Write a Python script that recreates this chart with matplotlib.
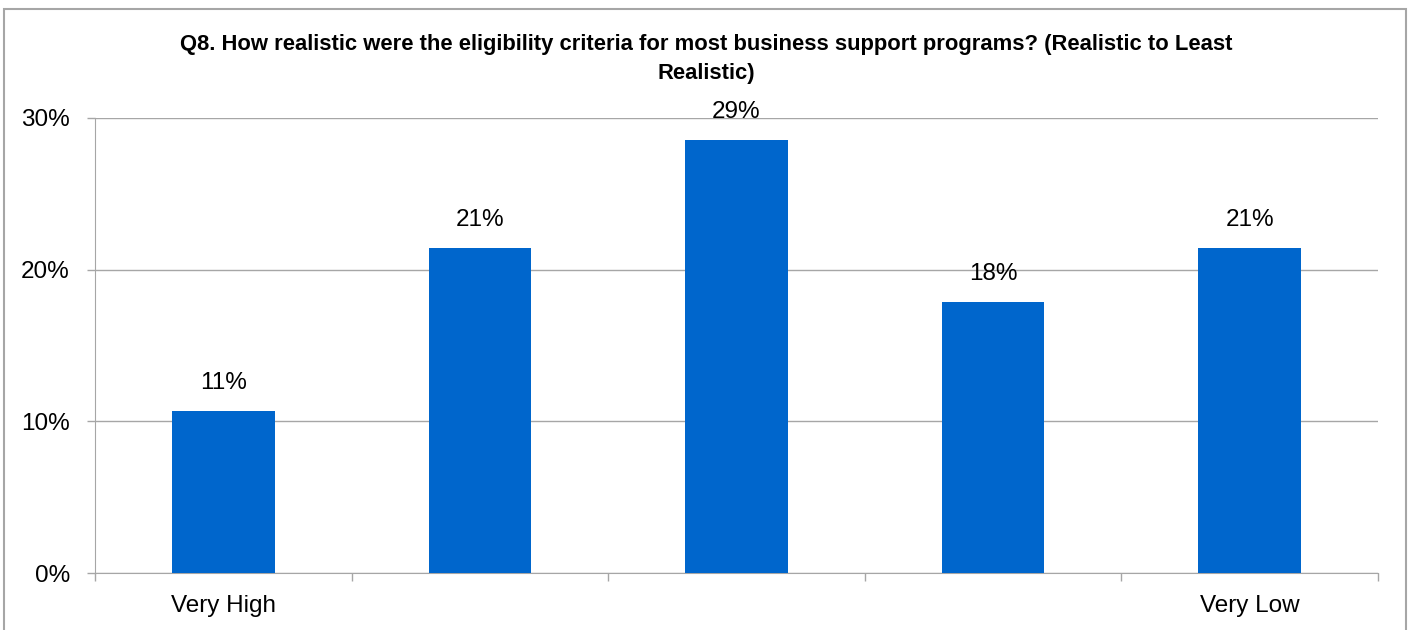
import numpy as np
import matplotlib.pyplot as plt
from matplotlib.patches import Rectangle

categories = ['Very High', '', '', '', 'Very Low']
values = [10.71, 21.43, 28.57, 17.86, 21.43]
labels = ['11%', '21%', '29%', '18%', '21%']
title = 'Q8. How realistic were the eligibility criteria for most business support programs? (Realistic to Least\nRealistic)'

plt.rcParams['font.family'] = ['Liberation Sans', 'DejaVu Sans']

fig = plt.figure(figsize=(14.12, 6.3), dpi=100)
ax = fig.add_axes([95/1412, 57/630, (1378-95)/1412, (573-118)/630])

x = np.arange(len(values))
ax.bar(x, values, width=0.4, color='#0066CC', zorder=3)
for xi, v, lab in zip(x, values, labels):
    ax.text(xi, v + 1.1, lab, ha='center', va='bottom', fontsize=17.5)

ax.set_xlim(-0.5, len(values) - 0.5)
ax.set_ylim(0, 30)
ax.set_yticks([0, 10, 20, 30])
ax.set_yticklabels(['0%', '10%', '20%', '30%'], fontsize=17.5)
ax.yaxis.grid(True, color='#a6a6a6', linewidth=1, zorder=0)

# category labels centred, tick marks at category boundaries
ax.set_xticks(x)
ax.set_xticklabels(categories, fontsize=17.5)
ax.tick_params(axis='x', length=0, pad=16)
ax.set_xticks(np.arange(-0.5, len(values)), minor=True)
ax.tick_params(axis='x', which='minor', length=6, color='#a6a6a6', width=1)
ax.tick_params(axis='y', length=6, color='#a6a6a6', width=1, pad=12)

for s in ['top', 'right']:
    ax.spines[s].set_visible(False)
ax.spines['left'].set_color('#a6a6a6')
ax.spines['bottom'].set_color('#a6a6a6')

fig.text(0.5, 1 - 59/630, title, ha='center', va='center', fontsize=15.8,
         fontweight='bold', linespacing=1.45)

fig.patches.append(Rectangle((4/1412, -0.1), 1402/1412, 1.1 - 9/630,
                             transform=fig.transFigure, fill=False,
                             edgecolor='#a6a6a6', linewidth=1.5))

fig.savefig('out.png', dpi=100)
